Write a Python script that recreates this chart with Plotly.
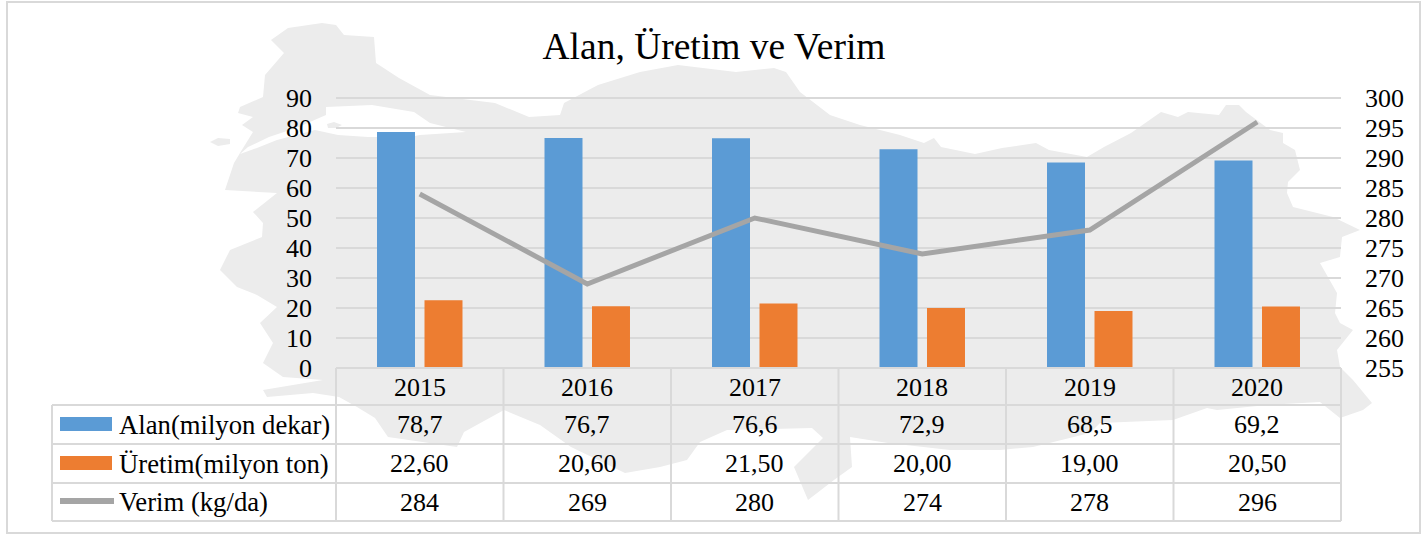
import plotly.graph_objects as go

# ---- data ----
years = ["2015", "2016", "2017", "2018", "2019", "2020"]
alan = [78.7, 76.7, 76.6, 72.9, 68.5, 69.2]
uretim = [22.60, 20.60, 21.50, 20.00, 19.00, 20.50]
verim = [284, 269, 280, 274, 278, 296]
left_ticks = list(range(0, 91, 10))
right_ticks = list(range(255, 301, 5))
series_names = ["Alan(milyon dekar)", "Üretim(milyon ton)", "Verim (kg/da)"]
table_rows = [
    [f"{v:.1f}".replace(".", ",") for v in alan],
    [f"{v:.2f}".replace(".", ",") for v in uretim],
    [str(v) for v in verim],
]

# ---- layout constants (pixels in the 1427x534 page) ----
W, H = 1427, 534
PL, PR, PT, PB = 336, 1341, 98, 368
FONT = "Liberation Serif"
GRID = "#d9d9d9"
BLUE, ORANGE, GRAY = "#5b9bd5", "#ed7d31", "#a5a5a5"
MAPC = "#ececec"

def px(x):
    return (x - PL) / (PR - PL)

def py(y):
    return (PB - y) / (PB - PT)

def poly(pts, fill):
    d = "M " + " L ".join(f"{px(x):.5f},{py(y):.5f}" for x, y in pts) + " Z"
    return dict(type="path", xref="paper", yref="paper", path=d, fillcolor=fill,
                line=dict(width=0), layer="below")

def seg(x0, y0, x1, y1, color=GRID, width=2, layer="above"):
    return dict(type="line", xref="paper", yref="paper", x0=px(x0), y0=py(y0), x1=px(x1), y1=py(y1),
                line=dict(color=color, width=width), layer=layer)

def rect(x0, y0, x1, y1, color):
    return dict(type="rect", xref="paper", yref="paper", x0=px(x0), y0=py(y0), x1=px(x1), y1=py(y1),
                fillcolor=color, line=dict(width=0), layer="above")

# background silhouette (decoration)
map_outline = [
    (271, 40), (288, 28), (322, 23), (336, 25), (344, 35), (374, 37), (376, 63), (399, 78), (430, 95),
    (495, 103), (529, 117), (560, 115), (564, 103), (598, 85), (640, 72), (678, 65), (736, 72), (774, 68),
    (786, 72), (800, 92), (830, 115), (860, 125), (900, 135), (924, 143), (934, 138), (941, 147), (975, 154),
    (1002, 148), (1036, 143), (1049, 150), (1087, 157), (1104, 147), (1131, 133), (1161, 112), (1178, 117),
    (1188, 112), (1219, 115), (1226, 105), (1239, 105), (1246, 112), (1270, 130), (1283, 133), (1283, 143),
    (1295, 150), (1300, 170), (1288, 182), (1287, 193), (1293, 207), (1333, 217), (1360, 230), (1342, 237),
    (1340, 257), (1320, 263), (1337, 293), (1335, 313), (1340, 323), (1353, 330), (1337, 350), (1340, 367),
    (1353, 380), (1372, 403), (1363, 410), (1340, 418), (1320, 402), (1267, 405), (1217, 410), (1207, 408),
    (1173, 420), (1100, 423), (1090, 433), (1033, 447), (1000, 450), (950, 450), (888, 443), (850, 437),
    (852, 467), (834, 480), (808, 500), (794, 467), (823, 438), (812, 428), (727, 430), (700, 442), (687, 460),
    (660, 467), (625, 473), (571, 447), (540, 425), (504, 410), (464, 432), (457, 447), (388, 437), (375, 418),
    (357, 407), (339, 397), (313, 393), (267, 397), (263, 390), (323, 380), (283, 377), (263, 363), (273, 343),
    (260, 323), (277, 307), (257, 295), (237, 287), (220, 270), (230, 250), (262, 237), (263, 223), (253, 212),
    (277, 193), (225, 190), (234, 163), (240, 153), (253, 132), (242, 125), (253, 117), (238, 113), (240, 107),
    (263, 97), (265, 75), (284, 53),
]
marmara = [
    (326, 107), (372, 105), (414, 112), (430, 123), (466, 132), (420, 135), (410, 137), (368, 137), (338, 135),
    (315, 130), (277, 140), (257, 148), (240, 154), (248, 147), (269, 137), (296, 128), (326, 115),
]
islets = [
    [(210, 142), (218, 138), (230, 139), (230, 144), (218, 146)],
    [(327, 124), (334, 122), (342, 125), (336, 128), (328, 128)],
    [(333, 136), (350, 137), (357, 141), (346, 144), (338, 142)],
]

shapes = [poly(map_outline, MAPC), poly(marmara, "#ffffff")] + [poly(p, MAPC) for p in islets]

# top gridline (plotly clips the one at the range end)
shapes.append(seg(PL, PT, PR, PT, layer="below"))

# outer frame
shapes.append(dict(type="rect", xref="paper", yref="paper", x0=px(7), x1=px(1420), y0=py(533), y1=py(2),
                   line=dict(color=GRID, width=2), fillcolor="rgba(0,0,0,0)", layer="above"))

# data table grid
col_w = (PR - PL) / len(years)
row_lines = [368, 405, 444, 483, 521]
for i, y in enumerate(row_lines):
    shapes.append(seg(PL if i == 0 else 52, y, PR, y))
for i in range(len(years) + 1):
    shapes.append(seg(PL + i * col_w, 368, PL + i * col_w, 521))
shapes.append(seg(52, 405, 52, 521))

# legend keys
shapes.append(rect(60, 417, 112, 431, BLUE))
shapes.append(rect(60, 456, 112, 470, ORANGE))
shapes.append(dict(type="path", xref="paper", yref="paper", layer="above",
                   path=f"M {px(60):.5f},{py(501):.5f} L {px(114):.5f},{py(501):.5f}",
                   line=dict(color=GRAY, width=6)))

# table text
annotations = []

def txt(x, y, s, anchor="center", size=26):
    annotations.append(dict(xref="paper", yref="paper", x=px(x), y=py(y), text=s, showarrow=False,
                            xanchor=anchor, yanchor="middle", align=anchor,
                            font=dict(family=FONT, size=size, color="#000000")))

row_centres = [424.5, 463.5, 502]
for i, yr in enumerate(years):
    cx = PL + (i + 0.5) * col_w
    txt(cx, 387, yr)
    for r, rc in zip(table_rows, row_centres):
        txt(cx, rc, r[i])
for name, rc in zip(series_names, row_centres):
    txt(116.5, rc, name, anchor="left", size=26.7)

fig = go.Figure()
fig.add_bar(x=years, y=alan, name=series_names[0], marker=dict(color=BLUE, line=dict(width=0)))
fig.add_bar(x=years, y=uretim, name=series_names[1], marker=dict(color=ORANGE, line=dict(width=0)))
fig.add_scatter(x=years, y=verim, name=series_names[2], yaxis="y2", mode="lines",
                line=dict(color=GRAY, width=5))

axis_font = dict(family=FONT, size=26, color="#000000")
fig.update_layout(
    width=W, height=H, autosize=False,
    margin=dict(l=PL, r=W - PR, t=PT, b=H - PB, pad=0),
    paper_bgcolor="#ffffff", plot_bgcolor="rgba(0,0,0,0)",
    showlegend=False, barmode="group", bargap=0.433, bargroupgap=0.2,
    font=dict(family=FONT, color="#000000"),
    title=dict(text="Alan, Üretim ve Verim", x=714 / W, xanchor="center", y=1 - 46 / H, yanchor="middle",
               font=dict(family=FONT, size=37.5, color="#000000")),
    xaxis=dict(type="category", categoryorder="array", categoryarray=years, range=[-0.5, 5.5],
               showticklabels=False, ticks="", showgrid=False, zeroline=False, showline=False),
    yaxis=dict(range=[0, 90], tickvals=left_ticks, showgrid=True, gridcolor=GRID, gridwidth=2,
               zeroline=False, showline=False, ticks="", tickfont=axis_font, ticklabelstandoff=23),
    yaxis2=dict(range=[255, 300], tickvals=right_ticks, overlaying="y", side="right", showgrid=False,
                zeroline=False, showline=False, ticks="", tickfont=axis_font, ticklabelstandoff=23),
    shapes=shapes, annotations=annotations,
)
fig.write_html("out.html", config=dict(displayModeBar=False),
               post_script="document.body.style.margin='0';document.documentElement.style.overflow='hidden';")
